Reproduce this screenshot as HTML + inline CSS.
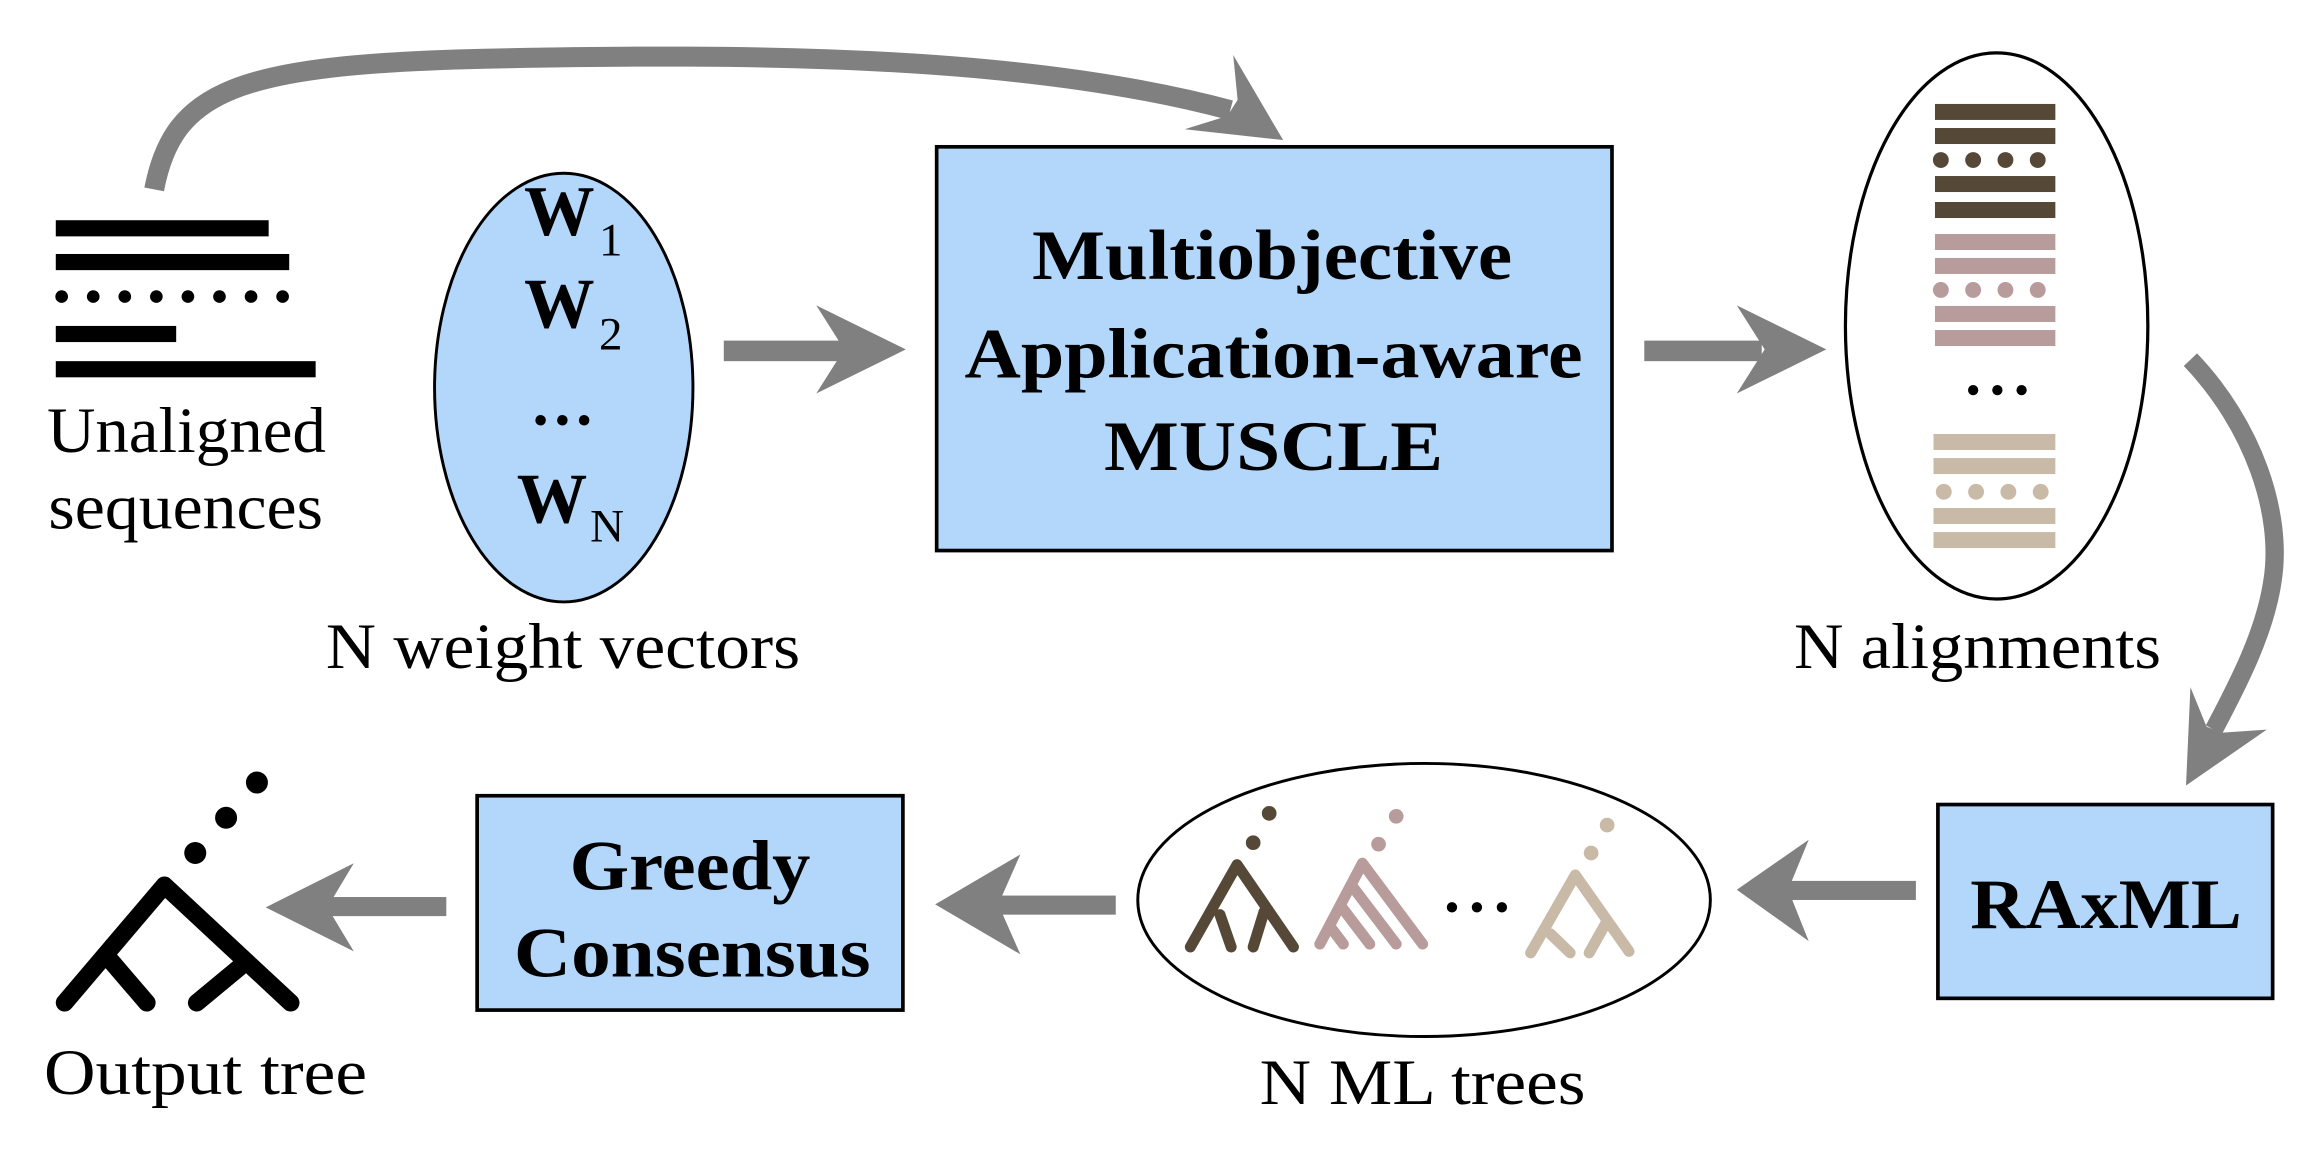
<!DOCTYPE html>
<html><head><meta charset="utf-8"><style>
html,body{margin:0;padding:0;background:#fff;}
svg{display:block;}
text{font-family:"Liberation Serif",serif;fill:#000;}
.b{font-weight:bold;}
</style></head><body>
<svg width="2302" height="1150" viewBox="0 0 1568 783.3" preserveAspectRatio="none" xmlns="http://www.w3.org/2000/svg">
<path d="M105,129 C118,62 160,44 330,40 C520,36 700,38 838,75" fill="none" stroke="#808080" stroke-width="13.6"/>
<polygon points="840,37.5 843,68 836,79 807,88 874,95.4" fill="#808080"/>
<rect x="38" y="150" width="145" height="11" fill="#000"/>
<rect x="38" y="173" width="159" height="11" fill="#000"/>
<g fill="#000">
<circle cx="42" cy="202" r="4.3"/><circle cx="63.5" cy="202" r="4.3"/><circle cx="85" cy="202" r="4.3"/><circle cx="106.5" cy="202" r="4.3"/><circle cx="128" cy="202" r="4.3"/><circle cx="149.5" cy="202" r="4.3"/><circle cx="171" cy="202" r="4.3"/><circle cx="192.5" cy="202" r="4.3"/>
</g>
<rect x="38" y="222" width="82" height="11" fill="#000"/>
<rect x="38" y="246" width="177" height="11" fill="#000"/>
<text x="32" y="308" font-size="44" textLength="190" lengthAdjust="spacingAndGlyphs">Unaligned</text>
<text x="33" y="360" font-size="44" textLength="187" lengthAdjust="spacingAndGlyphs">sequences</text>
<ellipse cx="384" cy="264" rx="88" ry="146" fill="#b3d7fb" stroke="#000" stroke-width="2"/>
<text class="b" x="357" y="160" font-size="48">W</text><text x="408" y="174" font-size="32">1</text>
<text class="b" x="357" y="223" font-size="48">W</text><text x="408" y="238" font-size="32">2</text>
<text class="b" x="383" y="289" font-size="44" text-anchor="middle">…</text>
<text class="b" x="352" y="356" font-size="48">W</text><text x="402" y="369" font-size="32">N</text>
<text x="222" y="455" font-size="44" textLength="323" lengthAdjust="spacingAndGlyphs">N weight vectors</text>
<rect x="493" y="232" width="82" height="14" fill="#808080"/>
<polygon points="556,208 617,238 556,268 575,238" fill="#808080"/>
<rect x="638" y="100" width="460" height="275" fill="#b3d7fb" stroke="#000" stroke-width="2.5"/>
<text class="b" x="703" y="190" font-size="48" textLength="327" lengthAdjust="spacingAndGlyphs">Multiobjective</text>
<text class="b" x="657" y="257" font-size="48" textLength="421" lengthAdjust="spacingAndGlyphs">Application-aware</text>
<text class="b" x="752" y="320" font-size="48" textLength="231" lengthAdjust="spacingAndGlyphs">MUSCLE</text>
<rect x="1120" y="232" width="80" height="14" fill="#808080"/>
<polygon points="1183,208 1244,238 1183,268 1202,238" fill="#808080"/>
<ellipse cx="1360" cy="222" rx="103" ry="186" fill="#fff" stroke="#000" stroke-width="2.2"/>
<g fill="#554836">
<rect x="1318" y="70.8" width="82" height="10.9"/><rect x="1318" y="87.2" width="82" height="10.9"/>
<circle cx="1322" cy="109" r="5.4"/><circle cx="1344" cy="109" r="5.4"/><circle cx="1366" cy="109" r="5.4"/><circle cx="1388" cy="109" r="5.4"/>
<rect x="1318" y="119.9" width="82" height="10.9"/><rect x="1318" y="137.6" width="82" height="10.9"/>
</g>
<g fill="#b89b9b">
<rect x="1318" y="159.4" width="82" height="10.9"/><rect x="1318" y="175.7" width="82" height="10.9"/>
<circle cx="1322" cy="197.5" r="5.4"/><circle cx="1344" cy="197.5" r="5.4"/><circle cx="1366" cy="197.5" r="5.4"/><circle cx="1388" cy="197.5" r="5.4"/>
<rect x="1318" y="208.4" width="82" height="10.9"/><rect x="1318" y="224.8" width="82" height="10.9"/>
</g>
<g fill="#000"><circle cx="1344" cy="265.7" r="3.5"/><circle cx="1360.5" cy="265.7" r="3.5"/><circle cx="1377" cy="265.7" r="3.5"/></g>
<g fill="#c8baa6">
<rect x="1317" y="295.6" width="83" height="10.9"/><rect x="1317" y="312" width="83" height="10.9"/>
<circle cx="1324" cy="335" r="5.4"/><circle cx="1346" cy="335" r="5.4"/><circle cx="1368" cy="335" r="5.4"/><circle cx="1390" cy="335" r="5.4"/>
<rect x="1317" y="346" width="83" height="10.9"/><rect x="1317" y="362.4" width="83" height="10.9"/>
</g>
<text x="1222" y="455" font-size="44" textLength="250" lengthAdjust="spacingAndGlyphs">N alignments</text>
<path d="M1492,245 C1535,290 1555,350 1548,395 C1543,430 1525,465 1508,497" fill="none" stroke="#808080" stroke-width="12.5"/>
<polygon points="1492,468 1503,495 1514,499 1544,497 1489,535" fill="#808080"/>
<rect x="1320" y="548" width="228" height="132" fill="#b3d7fb" stroke="#000" stroke-width="2.5"/>
<text class="b" x="1342" y="632" font-size="48" textLength="185" lengthAdjust="spacingAndGlyphs">RAxML</text>
<rect x="1212" y="600" width="93" height="13" fill="#808080"/>
<polygon points="1232,572 1183,606 1232,641 1218,606" fill="#808080"/>
<ellipse cx="970" cy="613" rx="195" ry="93" fill="#fff" stroke="#000" stroke-width="2"/>
<g fill="none" stroke-linecap="round" stroke-width="7.5">
<g stroke="#554836">
<path d="M842.6,589 L810.8,645 M842.6,589 L881,645 M831,623 L838.6,645 M861,621 L853.6,645"/>
</g>
<g stroke="#b89b9b">
<path d="M928,588 L899,643 M928,588 L969,643 M905.6,630.6 L915,643 M912.9,616.6 L933,643 M920.3,602.6 L951,643"/>
</g>
<g stroke="#c8baa6">
<path d="M1073,596 L1042.6,649 M1073,596 L1109.6,648 M1056,636 L1069.5,649 M1093.7,629 L1082.5,649"/>
</g>
</g>
<circle cx="864.5" cy="554" r="5" fill="#554836"/><circle cx="853.6" cy="574" r="5" fill="#554836"/>
<circle cx="951" cy="556" r="5" fill="#b89b9b"/><circle cx="939" cy="575" r="5" fill="#b89b9b"/>
<circle cx="1094.7" cy="562" r="5" fill="#c8baa6"/><circle cx="1083.8" cy="581" r="5" fill="#c8baa6"/>
<g fill="#000"><circle cx="989" cy="618" r="3.5"/><circle cx="1006" cy="618" r="3.5"/><circle cx="1023" cy="618" r="3.5"/></g>
<text x="858" y="752" font-size="44" textLength="222" lengthAdjust="spacingAndGlyphs">N ML trees</text>
<rect x="680" y="610" width="80" height="13" fill="#808080"/>
<polygon points="695,582 637,616 695,650 680,616" fill="#808080"/>
<rect x="325" y="542" width="290" height="146" fill="#b3d7fb" stroke="#000" stroke-width="2.5"/>
<text class="b" x="388" y="606" font-size="48" textLength="164" lengthAdjust="spacingAndGlyphs">Greedy</text>
<text class="b" x="350" y="665" font-size="48" textLength="243" lengthAdjust="spacingAndGlyphs">Consensus</text>
<rect x="220" y="611" width="84" height="13" fill="#808080"/>
<polygon points="241,588 181,618 241,648 223,618" fill="#808080"/>
<g fill="none" stroke="#000" stroke-width="12" stroke-linecap="round">
<path d="M112,603 L44,683 M112,603 L198,683 M76,655 L100,683 M163,659 L134,683"/>
</g>
<circle cx="175" cy="533" r="7.5" fill="#000"/><circle cx="154" cy="557" r="7.5" fill="#000"/><circle cx="133" cy="581" r="7.5" fill="#000"/>
<text x="30" y="745" font-size="44" textLength="220" lengthAdjust="spacingAndGlyphs">Output tree</text>
</svg>
</body></html>
